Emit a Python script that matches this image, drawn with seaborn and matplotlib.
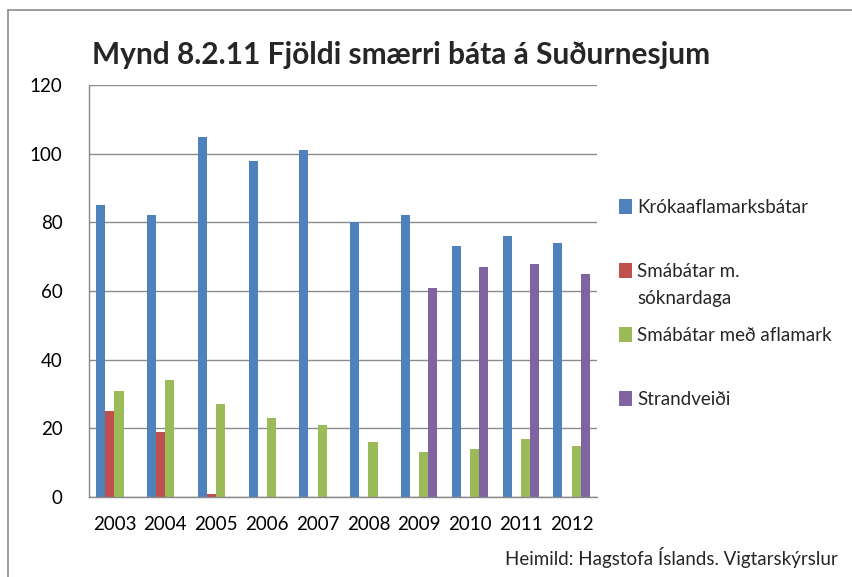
import matplotlib
matplotlib.use("Agg")
import matplotlib.pyplot as plt
from matplotlib.lines import Line2D
from matplotlib.patches import Patch
import numpy as np
import pandas as pd
import seaborn as sns

years = ["2003", "2004", "2005", "2006", "2007", "2008", "2009", "2010", "2011", "2012"]
series_names = ["Krókaaflamarksbátar", "Smábátar m. sóknardaga",
                "Smábátar með aflamark", "Strandveiði"]
krokaaflamark = [85, 82, 105, 98, 101, 80, 82, 73, 76, 74]
soknardagar = [25, 19, 1, 0, 0, 0, 0, 0, 0, 0]
aflamark = [31, 34, 27, 23, 21, 16, 13, 14, 17, 15]
strandveidi = [0, 0, 0, 0, 0, 0, 61, 67, 68, 65]
colors = ["#4F81BD", "#C0504D", "#9BBB59", "#8064A2"]
y_ticks = [0, 20, 40, 60, 80, 100, 120]

title = "Mynd 8.2.11 Fjöldi smærri báta á Suðurnesjum"
source = "Heimild: Hagstofa Íslands. Vigtarskýrslur"

df = pd.DataFrame({
    "year": years * 4,
    "series": sum([[s] * len(years) for s in series_names], []),
    "value": krokaaflamark + soknardagar + aflamark + strandveidi,
})

sns.set_theme(style="white")
plt.rcParams["font.family"] = ["Lato", "DejaVu Sans"]

W, H = 852, 577
fig = plt.figure(figsize=(W / 100, H / 100), dpi=100)
ax = fig.add_axes([89 / W, 1 - 497 / H, (597 - 89) / W, (497 - 85) / H])

sns.barplot(data=df, x="year", y="value", hue="series", hue_order=series_names,
            palette=colors, width=0.72, saturation=1, ax=ax, legend=False,
            edgecolor="none", linewidth=0)

tick_fs = 13.5
ax.set_ylim(0, 120)
ax.set_xlim(-0.5, len(years) - 0.5)
ax.set_yticks(y_ticks)
ax.set_yticklabels([str(v) for v in y_ticks], fontsize=tick_fs)
ax.tick_params(axis="x", which="major", length=0, labelsize=tick_fs, pad=14)
ax.set_xticks(np.arange(-0.5, len(years), 1.0), minor=True)
ax.tick_params(axis="x", which="minor", length=5, color="#898989", width=1, direction="out")
ax.tick_params(axis="y", length=8, color="#898989", width=1, direction="out", pad=11)
ax.set_xlabel("")
ax.set_ylabel("")
ax.yaxis.grid(True, color="#8C8C8C", linewidth=1)
ax.set_axisbelow(True)
for s in ["top", "right"]:
    ax.spines[s].set_visible(False)
for s in ["left", "bottom"]:
    ax.spines[s].set_color("#898989")
    ax.spines[s].set_linewidth(1)
for lbl in ax.get_xticklabels() + ax.get_yticklabels():
    lbl.set_color("#000000")

# legend: the long label wraps onto a second line under its first line
leg_fs = 13.5
leg_handles = [Patch(facecolor=c, edgecolor="none") for c in colors]
leg_labels = ["Krókaaflamarksbátar", "Smábátar m.",
              "Smábátar með aflamark", "Strandveiði"]
leg = fig.legend(leg_handles, leg_labels, loc="upper left",
                 bbox_to_anchor=(604 / W, 1 - 184 / H), frameon=False,
                 fontsize=leg_fs, handlelength=0.68, handleheight=0.85,
                 handletextpad=0.3, labelspacing=2.5, borderpad=0.3)

fig.canvas.draw()
renderer = fig.canvas.get_renderer()
t2 = leg.get_texts()[1]
bb = t2.get_window_extent(renderer)
fig.text(bb.x0 / W, (bb.y0 - 27) / H, "sóknardaga", fontsize=leg_fs,
         ha="left", va="bottom")

fig.text(92 / W, 1 - 55 / H, title, fontsize=21.5, fontweight="bold",
         ha="left", va="center")
fig.text(838 / W, 1 - 557 / H, source, fontsize=13.5, ha="right", va="center")

# outer chart frame
fig.add_artist(Line2D([8 / W, 8 / W], [0, 1 - 10 / H], color="#8C8C8C", linewidth=1.2,
                      transform=fig.transFigure))
fig.add_artist(Line2D([8 / W, 1], [1 - 10 / H, 1 - 10 / H], color="#8C8C8C", linewidth=1.2,
                      transform=fig.transFigure))

fig.savefig("out.png", dpi=100)
